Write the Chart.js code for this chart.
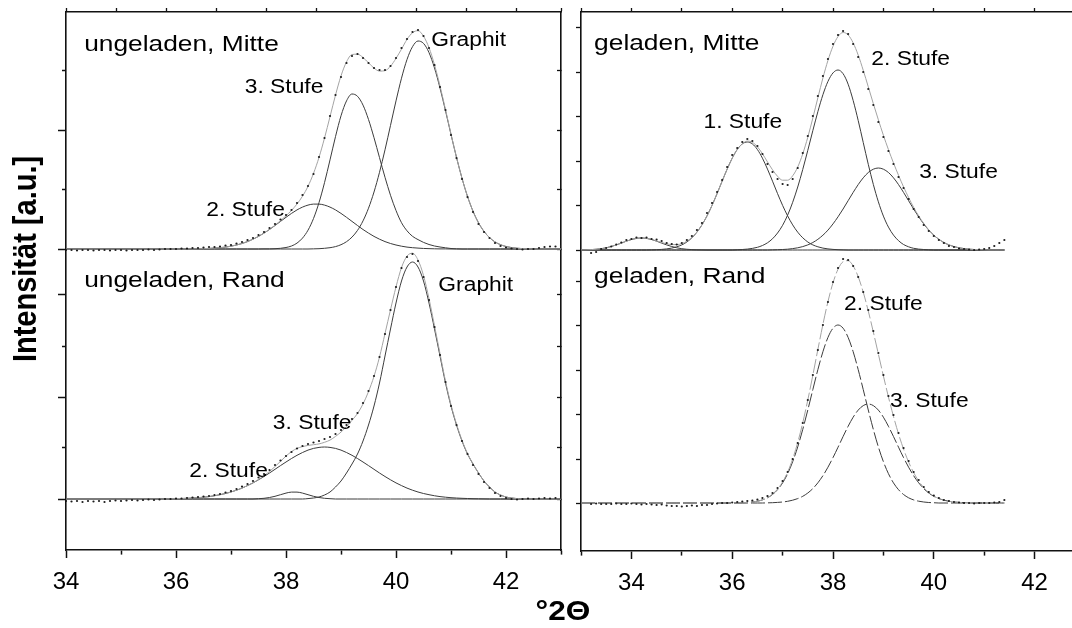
<!DOCTYPE html>
<html>
<head>
<meta charset="utf-8">
<script src="https://cdn.jsdelivr.net/npm/chart.js@4.4.1/dist/chart.umd.min.js"></script>
<style>
  html,body{margin:0;padding:0;background:#fff;width:1072px;height:628px;overflow:hidden}
  #wrap{position:relative;width:1072px;height:628px;overflow:hidden}
  canvas{position:absolute;left:0;top:0}
</style>
</head>
<body>
<div id="wrap">
  <canvas id="leftChart" width="1072" height="628"></canvas>
  <canvas id="rightChart" width="1100" height="628"></canvas>
</div>
<script>
/* ====== DATA ====== */
// 2-theta grid, left column (ungeladen) and right column (geladen)
const leftAngles = [
  34.0,34.1,34.2,34.3,34.4,34.5,34.6,34.7,34.8,34.9,
  35.0,35.1,35.2,35.3,35.4,35.5,35.6,35.7,35.8,35.9,
  36.0,36.1,36.2,36.3,36.4,36.5,36.6,36.7,36.8,36.9,
  37.0,37.1,37.2,37.3,37.4,37.5,37.6,37.7,37.8,37.9,
  38.0,38.1,38.2,38.3,38.4,38.5,38.6,38.7,38.8,38.9,
  39.0,39.1,39.2,39.3,39.4,39.5,39.6,39.7,39.8,39.9,
  40.0,40.1,40.2,40.3,40.4,40.5,40.6,40.7,40.8,40.9,
  41.0,41.1,41.2,41.3,41.4,41.5,41.6,41.7,41.8,41.9,
  42.0,42.1,42.2,42.3,42.4,42.5,42.6,42.7,42.8,42.9,
  43.0
];
const rightAngles = [
  33.0,33.1,33.2,33.3,33.4,33.5,33.6,33.7,33.8,33.9,
  34.0,34.1,34.2,34.3,34.4,34.5,34.6,34.7,34.8,34.9,
  35.0,35.1,35.2,35.3,35.4,35.5,35.6,35.7,35.8,35.9,
  36.0,36.1,36.2,36.3,36.4,36.5,36.6,36.7,36.8,36.9,
  37.0,37.1,37.2,37.3,37.4,37.5,37.6,37.7,37.8,37.9,
  38.0,38.1,38.2,38.3,38.4,38.5,38.6,38.7,38.8,38.9,
  39.0,39.1,39.2,39.3,39.4,39.5,39.6,39.7,39.8,39.9,
  40.0,40.1,40.2,40.3,40.4,40.5,40.6,40.7,40.8,40.9,
  41.0,41.1,41.2,41.3,41.4
];

// ungeladen, Mitte
const tlDots = [
  -1,-1,-1.5,-1,-1,-1.5,-1,-1,-1.5,-1,
  -1,-1.5,-1,-1,-1,-0.5,-1,-0.5,0,0,
  0,0.5,0.5,1,1,1.5,2,2,2.5,3.5,
  4,5.5,7,9,11,14,17,21,25,29.5,
  34,39,46,54,63,75,92,111,133,154,
  172,186,193,195,191,186,181,179,179,183,
  191,201,210,217,219,213,201,184,162,139,
  114,91,70,52,37,25,17,11,6,3,
  1.5,0.5,0,-0.5,0,0,1,2,2.5,2.5,
  3
];
const tlFit = [
  0,0,0,0,0,0,0,0,0,0,
  0,0,0,0,0,0,0,0,0,0,
  0,0,0.1,0.1,0.2,0.4,0.6,0.9,1.3,1.9,
  2.8,4.0,5.5,7.4,9.8,12.6,15.9,19.6,23.8,28.3,
  33.2,38.6,45.0,52.8,62.7,75.6,91.6,110.9,132.3,153.9,
  173.1,187.1,194.5,194.8,191.5,186.2,180.9,177.9,178.3,182.8,
  190.6,199.9,209.6,216.3,218.3,212.8,201.3,184.2,163.1,139.4,
  115.0,91.6,70.7,52.6,37.8,26.2,17.6,11.4,7.1,4.3,
  2.5,1.4,0.8,0.4,0.2,0,0,0,0,0,
  0
];
const tlStufe2 = [
  0,0,0,0,0,0,0,0,0,0,
  0,0,0,0,0,0,0,0,0,0,
  0,0,0.1,0.1,0.2,0.35,0.56,0.9,1.3,1.9,
  2.8,4.0,5.5,7.4,9.8,12.6,15.9,19.5,23.5,27.6,
  31.7,35.6,39.1,41.9,43.9,44.9,44.9,43.9,41.9,39.1,
  35.6,31.7,27.6,23.5,19.5,15.9,12.6,9.8,7.4,5.5,
  4.0,2.8,1.9,1.3,0.9,0.56,0.35,0.2,0.1,0.1,
  0,0,0,0,0,0,0,0,0,0,
  0,0,0,0,0,0,0,0,0,0,
  0
];
const tlStufe3 = [
  0,0,0,0,0,0,0,0,0,0,
  0,0,0,0,0,0,0,0,0,0,
  0,0,0,0,0,0,0,0,0,0,
  0,0,0,0,0,0,0.1,0.1,0.3,0.7,
  1.5,3.0,5.9,10.9,18.8,30.5,46.4,66.3,89.1,112.4,
  133.2,148.1,155,152.7,143.9,129.5,111.3,91.4,71.7,53.7,
  38.5,26.3,18.2,12.7,9.4,6.6,4.5,3.0,2.0,1.2,
  0.5,0.2,0,0,0,0,0,0,0,0,
  0,0,0,0,0,0,0,0,0,0,
  0
];
const tlGraphit = [
  0,0,0,0,0,0,0,0,0,0,
  0,0,0,0,0,0,0,0,0,0,
  0,0,0,0,0,0,0,0,0,0,
  0,0,0,0,0,0,0,0,0,0,
  0,0,0,0,0,0.15,0.3,0.7,1.3,2.4,
  4.3,7.3,11.9,18.6,28.1,40.8,57.0,76.7,99.2,123.6,
  148.1,170.8,189.5,202.3,208,205.6,196.4,181.0,161.0,138.2,
  114.5,91.6,70.7,52.6,37.8,26.2,17.6,11.4,7.1,4.3,
  2.5,1.4,0.75,0.4,0.2,0,0,0,0,0,
  0
];

// ungeladen, Rand
const blDots = [
  -2,-2.5,-2,-3,-2,-2.5,-2,-3,-2,-1.5,
  -2,-1.5,-1,-1.5,-1,-0.5,-1,-0.5,0,0,
  0.5,0.5,1,1.5,2,2.5,3,4,5,6.5,
  8,10,12.5,15,18,21.5,25,29,34,38.5,
  43,47,50.5,53,55,56.5,58,60,62,65,
  69,74,80,86,96,108,123,142,165,189,
  212,231,242,245,238,222,199,172,144,117,
  93,74,58,45,34,25,17,11,6,3,
  1,0,-0.5,0,0.5,0,0.5,1,0.5,1,
  1
];
const blFit = [
  0,0,0,0,0,0,0,0,0,0,
  0,0,0,0,0,0,0,0,0,0.2,
  0.3,0.5,0.7,1.0,1.3,1.8,2.4,3.3,4.3,5.5,
  7.0,8.8,10.9,13.4,16.1,19.5,23.2,27.5,32.4,37.7,
  42.9,47.4,50.6,52.4,53.6,54.3,55.1,56.7,58.9,62.6,
  66.9,72.5,78.7,85.5,95.0,107.4,122.7,142.0,165.5,189.2,
  212.1,231.4,242.9,245.8,239.0,223.5,200.3,173.3,145.4,117.8,
  94.3,75.0,58.7,45.5,35.2,26.0,18.0,12.0,7.0,4.0,
  2.0,1.0,0.4,0,0,0,0,0,0,0,
  0
];
const blStufe2 = [
  0,0,0,0,0,0,0,0,0,0,
  0,0,0,0,0,0,0,0,0,0,
  0,0,0,0,0,0,0,0,0,0,
  0,0,0,0,0,0.3,0.7,1.5,2.7,4.3,
  5.9,6.9,6.9,5.9,4.3,2.7,1.5,0.7,0.3,0,
  0,0,0,0,0,0,0,0,0,0,
  0,0,0,0,0,0,0,0,0,0,
  0,0,0,0,0,0,0,0,0,0,
  0,0,0,0,0,0,0,0,0,0,
  0
];
const blStufe3 = [
  0,0,0,0,0,0,0,0,0,0,
  0,0,0,0,0,0,0,0,0,0.2,
  0.3,0.5,0.7,0.96,1.3,1.8,2.4,3.25,4.3,5.5,
  7.0,8.8,10.9,13.4,16.1,19.2,22.5,26.0,29.7,33.4,
  37.0,40.5,43.7,46.5,48.9,50.6,51.6,52.0,51.6,50.6,
  48.9,46.5,43.7,40.5,37.0,33.4,29.7,26.0,22.5,19.2,
  16.1,13.4,10.9,8.8,7.0,5.5,4.3,3.25,2.4,1.8,
  1.3,0.96,0.7,0.5,0.3,0.2,0.1,0,0,0,
  0,0,0,0,0,0,0,0,0,0,
  0
];
const blGraphit = [
  0,0,0,0,0,0,0,0,0,0,
  0,0,0,0,0,0,0,0,0,0,
  0,0,0,0,0,0,0,0,0,0,
  0,0,0,0,0,0,0,0,0,0,
  0,0,0,0,0.4,1,2,4,7,12,
  18,26,35,45,58,74,93,116,143,170,
  196,218,232,237,232,218,196,170,143,116,
  93,74,58,45,35,26,18,12,7,4,
  2,1,0.4,0,0,0,0,0,0,0,
  0
];

// geladen, Mitte
const trDots = [
  null,null,-3,-2,1,2,3.5,5.5,7.5,10,
  11,12.5,12,12.5,11,10.5,9,7,6,5.5,
  7,10,14,20,27,37,47,58,70,83,
  95,102,108,111,109,104,96,86,78,71,
  66,65,71,82,97,114,134,154,174,191,
  206,215,219,216,206,193,178,161,145,128,
  113,99,86,73,62,51,41,33,25,19,
  14,10,7,4,3,1.5,1,0.5,0,0.5,
  1,2,4,7,10
];
const trFit = [
  0.1,0.2,0.4,0.75,1.3,2.2,3.5,5.1,6.9,8.8,
  10.5,11.6,12,11.7,10.6,9.1,7.5,6.2,5.4,5.4,
  6.4,8.8,12.6,18.0,25.2,34.1,44.6,56.4,68.8,80.9,
  91.8,100.5,106.1,108.9,107.7,103.2,96.3,88.1,80.2,73.7,
  69.8,69.8,74.2,83.0,96.2,112.8,132.0,152.3,172.0,189.6,
  203.8,213.5,217.5,215.1,207.1,194.9,179.7,163.2,146.4,130.2,
  114.7,100.4,87.1,74.7,63.1,52.5,42.7,34.1,26.6,20.1,
  14.8,10.7,7.5,5.1,3.4,2.2,1.4,0.8,0.5,0.3,
  0.15,0,0,0,0
];
const trBump = [
  0.1,0.2,0.4,0.75,1.3,2.2,3.5,5.1,6.9,8.8,
  10.5,11.6,12,11.6,10.5,8.8,6.9,5.1,3.5,2.2,
  1.3,0.75,0.4,0.2,0.1,0,0,0,0,0,
  0,0,0,0,0,0,0,0,0,0,
  0,0,0,0,0,0,0,0,0,0,
  0,0,0,0,0,0,0,0,0,0,
  0,0,0,0,0,0,0,0,0,0,
  0,0,0,0,0,0,0,0,0,0,
  0,0,0,0,0
];
const trStufe1 = [
  0,0,0,0,0,0,0,0,0,0,
  0,0,0,0,0.15,0.3,0.6,1.1,1.9,3.2,
  5.1,8.0,12.2,17.8,25.1,34.1,44.6,56.4,68.8,80.9,
  91.8,100.5,106.1,108,106.1,100.5,91.8,80.9,68.8,56.4,
  44.6,34.1,25.1,17.8,12.2,8.0,5.1,3.2,1.9,1.1,
  0.6,0.3,0.15,0,0,0,0,0,0,0,
  0,0,0,0,0,0,0,0,0,0,
  0,0,0,0,0,0,0,0,0,0,
  0,0,0,0,0
];
const trStufe2 = [
  0,0,0,0,0,0,0,0,0,0,
  0,0,0,0,0,0,0,0,0,0,
  0,0,0,0,0,0,0,0,0,0,
  0,0.25,0.5,0.9,1.6,2.7,4.5,7.2,11.25,17.0,
  24.7,34.9,47.7,63.0,80.6,99.7,119.4,138.4,155.3,168.6,
  177.1,180,176.3,165.8,149.5,129.5,107.5,85.7,65.6,48.2,
  33.9,22.9,14.9,9.3,5.5,3.2,1.7,0.9,0.5,0.2,
  0,0,0,0,0,0,0,0,0,0,
  0,0,0,0,0
];
const trStufe3 = [
  0,0,0,0,0,0,0,0,0,0,
  0,0,0,0,0,0,0,0,0,0,
  0,0,0,0,0,0,0,0,0,0,
  0,0,0,0,0,0,0,0,0.15,0.3,
  0.5,0.8,1.4,2.2,3.4,5.1,7.5,10.7,14.8,19.9,
  26.1,33.2,41,49.3,57.6,65.4,72.2,77.5,80.8,82,
  80.8,77.5,72.2,65.4,57.6,49.3,41,33.2,26.1,19.9,
  14.8,10.7,7.5,5.1,3.4,2.2,1.4,0.8,0.5,0.3,
  0.15,0,0,0,0
];

// geladen, Rand
const brDots = [
  null,null,-1,-0.5,-1,-1,-1,-0.5,-1,-1,
  -0.5,-1,-1.5,-1,-1.5,-2,-1.5,-2.5,-3,-3,
  -3.5,-3,-2.5,-3,-2,-2,-1,-0.5,0,0,
  0.5,1,1.5,2,2.5,3.5,5,7,10,15,
  22,31,44,60,80,103,128,153,178,201,
  221,235,244,243,237,226,211,193,172,150,
  128,107,88,70,55,42,31,23,16,11,
  7.5,5,3,2,1,0.5,0,0,-0.5,0,
  0,0,0.5,1,3
];
const brFit = [
  0,0,0,0,0,0,0,0,0,0,
  0,0,0,0,0,0,0,0,0,0,
  0,0,0,0,0,0,0,0,0,0,
  0,0,0.25,0.5,1.0,1.8,3.1,5.35,8.8,13.9,
  21.1,31.0,44.1,60.5,80.3,103.0,127.8,153.6,178.6,201.4,
  220.2,233.8,241.3,242.3,237.1,226.3,210.8,192.0,171.0,149.0,
  127.1,106.0,86.6,69.1,53.9,41.0,30.4,22.0,15.4,10.5,
  7.0,4.4,2.8,1.7,1.0,0.6,0.3,0.15,0,0,
  0,0,0,0,0
];
const brStufe2 = [
  0,0,0,0,0,0,0,0,0,0,
  0,0,0,0,0,0,0,0,0,0,
  0,0,0,0,0,0,0,0,0,0,
  0,0,0.25,0.5,1.0,1.8,3.1,5.2,8.5,13.3,
  20.1,29.3,41.3,56.1,73.6,93.0,113.4,133.4,151.3,165.6,
  174.8,178,174.8,165.6,151.3,133.4,113.4,93.0,73.6,56.1,
  41.3,29.3,20.1,13.3,8.5,5.2,3.1,1.8,1.0,0.5,
  0.25,0,0,0,0,0,0,0,0,0,
  0,0,0,0,0
];
const brStufe3 = [
  0,0,0,0,0,0,0,0,0,0,
  0,0,0,0,0,0,0,0,0,0,
  0,0,0,0,0,0,0,0,0,0,
  0,0,0,0,0,0,0,0.15,0.3,0.6,
  1.0,1.7,2.8,4.4,6.7,10.0,14.4,20.2,27.3,35.8,
  45.4,55.8,66.5,76.7,85.8,92.9,97.4,99,97.4,92.9,
  85.8,76.7,66.5,55.8,45.4,35.8,27.3,20.2,14.4,10.0,
  6.7,4.4,2.8,1.7,1.0,0.6,0.3,0.15,0,0,
  0,0,0,0,0
];

// vertical offsets of the stacked patterns (intensity units)
const TL_BASE = 301, BL_BASE = 51, TR_BASE = 301, BR_BASE = 48;

// y tick marks (no labels in the original)
const leftMajorTicks = [51, 153, 256, 301, 420];
const leftMinorTicks = [102, 204, 361, 480];
const rightTicks = [48, 92, 137, 181, 226, 270, 301, 345, 390, 434, 479, 524];

// text in the panels
const leftNotes = [
  {text:'ungeladen, Mitte', x:34.33, y:499, size:22.5},
  {text:'3. Stufe', x:37.25, y:457, size:19.5},
  {text:'2. Stufe', x:36.55, y:334, size:19.5},
  {text:'Graphit', x:40.64, y:504, size:19.5},
  {text:'ungeladen, Rand', x:34.33, y:263, size:22.5},
  {text:'Graphit', x:40.77, y:259, size:19.5},
  {text:'3. Stufe', x:37.76, y:121, size:19.5},
  {text:'2. Stufe', x:36.24, y:73, size:19.5}
];
const rightNotes = [
  {text:'geladen, Mitte', x:33.26, y:501, size:22.5},
  {text:'2. Stufe', x:38.76, y:486, size:19.5},
  {text:'1. Stufe', x:35.43, y:423, size:19.5},
  {text:'3. Stufe', x:39.71, y:373, size:19.5},
  {text:'geladen, Rand', x:33.26, y:268, size:22.5},
  {text:'2. Stufe', x:38.22, y:241, size:19.5},
  {text:'3. Stufe', x:39.13, y:144, size:19.5}
];

/* ====== helpers ====== */
const FONT = '"Liberation Sans", Arial, Helvetica, sans-serif';
const STRETCH = 1.17;   // original scan is stretched horizontally
const INK = '#111';
const FIT = '#a3a3a3';
const PEAK = '#3c3c3c';

const pts = (xs, ys, base) => xs.map((x, i) => ({x, y: ys[i] == null ? null : ys[i] + base}));
const dots = (xs, ys, base) => ({
  data: pts(xs, ys, base), showLine:false, pointRadius:1.1, pointHoverRadius:0,
  pointBackgroundColor:'#1c1c1c', pointBorderWidth:0, order:0
});
const curve = (xs, ys, base, color, dash) => ({
  data: pts(xs, ys, base), showLine:true, pointRadius:0, pointHoverRadius:0,
  borderColor:color, borderWidth:1, borderDash:dash || [],
  cubicInterpolationMode:'monotone', order:color===FIT ? 1 : 2
});

function notesPlugin(items, withTitles){
  return {
    id:'notes',
    afterDatasetsDraw(chart){
      const {ctx, scales:{x, y}} = chart;
      ctx.save();
      ctx.fillStyle = '#000';
      ctx.textBaseline = 'alphabetic';
      items.forEach(n => {
        ctx.save();
        ctx.translate(x.getPixelForValue(n.x), y.getPixelForValue(n.y));
        ctx.scale(STRETCH, 1);
        ctx.font = `${n.size}px ${FONT}`;
        ctx.fillText(n.text, 0, 0);
        ctx.restore();
      });
      if(withTitles){
        ctx.save();
        ctx.font = `bold 29px ${FONT}`;
        ctx.textAlign = 'center'; ctx.textBaseline = 'middle';
        ctx.translate(27, 259); ctx.scale(STRETCH, 1); ctx.rotate(-Math.PI/2);
        ctx.fillText('Intensität [a.u.]', 0, 0);
        ctx.restore();
        ctx.save();
        ctx.font = `bold 27px ${FONT}`;
        ctx.textAlign = 'center'; ctx.textBaseline = 'alphabetic';
        ctx.translate(563, 620); ctx.scale(STRETCH, 1);
        ctx.fillText('°2Θ', 0, 0);
        ctx.restore();
      }
      ctx.restore();
    }
  };
}

const border = {display:true, color:INK, width:1.6};
const xBottom = (min, max) => ({
  type:'linear', position:'bottom', min, max,
  afterFit: s => { s.height = 60; },
  border,
  grid:{drawOnChartArea:false, color:INK, tickLength:8, tickWidth:1.5,
        tickBorderDash: c => (c.tick && c.tick.value % 2) ? [4, 20] : []},
  ticks:{stepSize:1, autoSkip:false, maxRotation:0, padding:10, color:'#000',
         font:{family:FONT, size:24}, callback: v => (v % 2 === 0 ? String(v) : '')}
});

/* ====== LEFT COLUMN (ungeladen) ====== */
new Chart(document.getElementById('leftChart'), {
  type:'scatter',
  data:{datasets:[
    dots(leftAngles, tlDots, TL_BASE),
    curve(leftAngles, tlFit, TL_BASE, FIT),
    curve(leftAngles, tlGraphit, TL_BASE, PEAK),
    curve(leftAngles, tlStufe3, TL_BASE, PEAK),
    curve(leftAngles, tlStufe2, TL_BASE, PEAK),
    dots(leftAngles, blDots, BL_BASE),
    curve(leftAngles, blFit, BL_BASE, FIT),
    curve(leftAngles, blGraphit, BL_BASE, PEAK),
    curve(leftAngles, blStufe3, BL_BASE, PEAK),
    curve(leftAngles, blStufe2, BL_BASE, PEAK)
  ]},
  options:{
    responsive:false, animation:false, devicePixelRatio:1, events:[],
    layout:{padding:{left:36, right:511, top:12, bottom:18}},
    plugins:{legend:{display:false}, tooltip:{enabled:false}},
    scales:{
      x: xBottom(34, 43),
      x2:{type:'linear', position:'top', min:0, max:9.9,
          afterFit: s => { s.height = 0; }, border,
          grid:{drawOnChartArea:false, color:INK, tickLength:4, tickWidth:1.3},
          ticks:{stepSize:1, display:false}},
      y:{type:'linear', position:'left', min:0, max:538,
         afterBuildTicks: s => { s.ticks = [...leftMajorTicks, ...leftMinorTicks].map(v => ({value:v})); },
         afterFit: s => { s.width = 30; }, border,
         grid:{drawOnChartArea:false, color:INK, tickLength:8, tickWidth:1.5,
               tickBorderDash: c => (c.tick && leftMinorTicks.includes(c.tick.value)) ? [0, 4, 4, 0] : []},
         ticks:{display:false}},
      y2:{type:'linear', position:'right', min:0, max:538,
          afterBuildTicks: s => { s.ticks = [...leftMajorTicks, ...leftMinorTicks].map(v => ({value:v})); },
          afterFit: s => { s.width = 0; }, border,
          grid:{drawOnChartArea:false, color:INK, tickLength:-4, tickWidth:1.3},
          ticks:{display:false}}
    }
  },
  plugins:[notesPlugin(leftNotes, true)]
});

/* ====== RIGHT COLUMN (geladen) ====== */
new Chart(document.getElementById('rightChart'), {
  type:'scatter',
  data:{datasets:[
    dots(rightAngles, trDots, TR_BASE),
    curve(rightAngles, trFit, TR_BASE, FIT),
    curve(rightAngles, trBump, TR_BASE, PEAK),
    curve(rightAngles, trStufe1, TR_BASE, PEAK),
    curve(rightAngles, trStufe2, TR_BASE, PEAK),
    curve(rightAngles, trStufe3, TR_BASE, PEAK),
    dots(rightAngles, brDots, BR_BASE),
    curve(rightAngles, brFit, BR_BASE, FIT, [14, 3]),
    curve(rightAngles, brStufe2, BR_BASE, PEAK, [14, 3]),
    curve(rightAngles, brStufe3, BR_BASE, PEAK, [14, 3])
  ]},
  options:{
    responsive:false, animation:false, devicePixelRatio:1, events:[],
    layout:{padding:{left:551, right:15, top:12, bottom:17}},
    plugins:{legend:{display:false}, tooltip:{enabled:false}},
    scales:{
      x: xBottom(33, 43),
      x2:{type:'linear', position:'top', min:33, max:43,
          afterFit: s => { s.height = 0; }, border,
          grid:{drawOnChartArea:false, color:INK, tickLength:4, tickWidth:1.3},
          ticks:{stepSize:1, display:false}},
      y:{type:'linear', position:'left', min:0, max:539,
         afterBuildTicks: s => { s.ticks = rightTicks.map(v => ({value:v})); },
         afterFit: s => { s.width = 30; }, border,
         grid:{drawOnChartArea:false, color:INK, tickLength:5, tickWidth:1.3},
         ticks:{display:false}}
    }
  },
  plugins:[notesPlugin(rightNotes, false)]
});
</script>
</body>
</html>
